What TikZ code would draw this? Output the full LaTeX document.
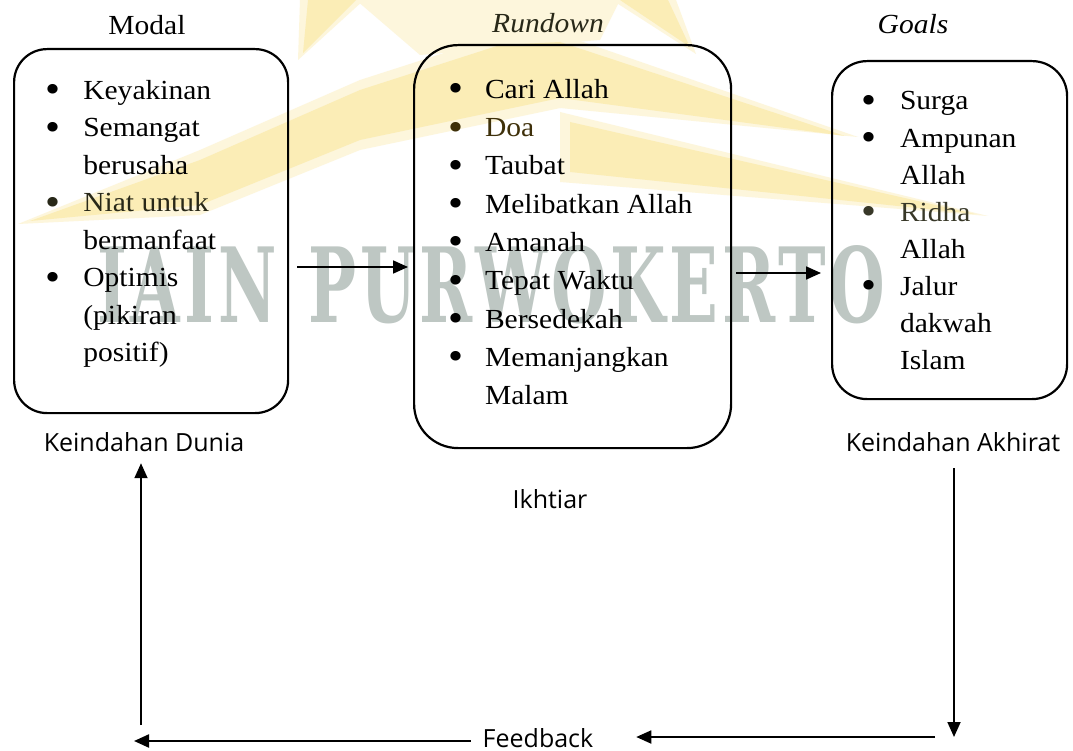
\documentclass[tikz,border=0pt]{standalone}
\usepackage{fontspec}
\usepackage{graphicx}
\setmainfont{Liberation Serif}[FakeStretch=1.07]
\newfontfamily\labelfont{Open Sans}
\newfontfamily\wmfont{DejaVu Serif}[LetterSpace=6]
\usetikzlibrary{arrows.meta,calc}
\definecolor{logoy}{RGB}{251,237,182}
\definecolor{logoyl}{RGB}{253,246,220}
\definecolor{wmgray}{RGB}{190,199,195}
\definecolor{tintDoa}{RGB}{62,48,10}
\definecolor{tintNiat}{RGB}{40,40,24}
\definecolor{tintRidha}{RGB}{56,56,40}
\newcommand{\bul}{\raisebox{-3.5pt}{\scalebox{1.45}{•}}}
\newcommand{\bc}[1]{\makebox[#1][l]{\bul}}
\tikzset{
  box/.style={draw, line width=2.2pt, inner sep=0pt, anchor=north west},
  heading/.style={font=\fontsize{27.6}{33}\selectfont, inner sep=0pt, outer sep=0pt, anchor=base},
  lbl/.style={font=\labelfont\fontsize{25}{30}\selectfont, inner sep=0pt, outer sep=0pt, anchor=base},
  listnode/.style={inner sep=0pt, outer sep=0pt, anchor=base west},
  arr/.style={line width=1.8pt, -{Triangle[length=15pt,width=13pt]}},
  logo/.style={fill=logoy, draw=none},
  logolight/.style={fill=logoyl, draw=none},
}
\begin{document}
\begin{tikzpicture}[x=1pt,y=-1pt]
\useasboundingbox (0,0) rectangle (1073,751);
\fill[white] (0,0) rectangle (1073,751);

% faint logo watermark: soft halo first, then core
\fill[logolight] (356,0) -- (620,0) -- (600,40) -- (420,55) -- cycle;
\fill[logolight] (298,60) -- (300,0) -- (364,0) -- cycle;
\fill[logolight] (696,54) -- (612,0) -- (676,0) -- cycle;
\fill[logolight] (18,224) -- (200,150) -- (360,80) -- (500,35) -- (570,34) -- (570,106) -- (360,150) -- (200,215) -- cycle;
\fill[logolight] (560,34) -- (858,137) -- (560,108) -- cycle;
\fill[logolight] (560,112) -- (988,216) -- (560,182) -- cycle;
\fill[logo] (303,53) -- (308,0) -- (356,0) -- cycle;
\fill[logo] (690,47) -- (620,0) -- (668,0) -- cycle;
\fill[logo] (30,221) -- (200,160) -- (360,90) -- (500,45) -- (560,42) -- (560,98) -- (360,140) -- (200,205) -- cycle;
\fill[logo] (560,42) -- (845,136) -- (560,98) -- cycle;
\fill[logo] (570,122) -- (975,214) -- (570,172) -- cycle;
\node[text=wmgray, inner sep=0pt, anchor=north west] (wm) at (97,245)
  {\resizebox{788pt}{77pt}{\wmfont\bfseries IAIN\hspace{0.5em}PURWOKERTO}};

% headings
\node[heading] (hModal) at (147,35) {Modal};
\node[heading, text=tintNiat] (hRundown) at (548,33) {\itshape Rundown};
\node[heading] (hGoals) at (913,34) {\itshape Goals};

% boxes
\node[box, rounded corners=33pt, minimum width=274pt, minimum height=364pt] (box1) at (13,48) {};
\node[box, rounded corners=44pt, minimum width=317pt, minimum height=403pt] (box2) at (413,44) {};
\node[box, rounded corners=35pt, minimum width=235pt, minimum height=338pt] (box3) at (831,60) {};

% lists
\node[listnode] (list1) at (45.5,99.3) {\fontsize{27.6}{37.5}\selectfont
  \begin{tabular}[t]{@{}l@{}l@{}}
  \bc{37.8pt} & Keyakinan\\
  \bc{37.8pt} & Semangat\\
       & berusaha\\
  \color{tintNiat}\bc{37.8pt} & \color{tintNiat}Niat untuk\\
       & bermanfaat\\
  \bc{37.8pt} & Optimis\\
       & (pikiran\\
       & positif)
  \end{tabular}};
\node[listnode] (list2) at (448.5,98.3) {\fontsize{27.6}{38.3}\selectfont
  \begin{tabular}[t]{@{}l@{}l@{}}
  \bc{36.5pt} & Cari Allah\\
  \color{tintDoa}\bc{36.5pt} & \color{tintDoa}Doa\\
  \bc{36.5pt} & Taubat\\
  \bc{36.5pt} & Melibatkan Allah\\
  \bc{36.5pt} & Amanah\\
  \bc{36.5pt} & Tepat Waktu\\
  \bc{36.5pt} & Bersedekah\\
  \bc{36.5pt} & Memanjangkan\\
       & Malam
  \end{tabular}};
\node[listnode] (list3) at (861.5,110) {\fontsize{27.6}{37.1}\selectfont
  \begin{tabular}[t]{@{}l@{}l@{}}
  \bc{38.5pt} & Surga\\
  \bc{38.5pt} & Ampunan\\
       & Allah\\
  \color{tintRidha}\bc{38.5pt} & \color{tintRidha}Ridha\\
       & Allah\\
  \bc{38.5pt} & Jalur\\
       & dakwah\\
       & Islam
  \end{tabular}};

% labels
\node[lbl] (kD) at (144,451) {Keindahan Dunia};
\node[lbl] (kA) at (953,451) {Keindahan Akhirat};
\node[lbl] (ik) at (550,508) {Ikhtiar};
\node[lbl] (fb) at (538,747) {Feedback};

% connector helpers
\coordinate (p1) at (0,267);
\coordinate (p2) at (0,273);
\coordinate (br) at (954,737);
\coordinate (bl) at (141,741);

% connectors
\draw[arr] ($(box1.east |- p1)+(8,0)$) -- ($(box2.west |- p1)+(-5,0)$);
\draw[arr] ($(box2.east |- p2)+(4,0)$) -- ($(box3.west |- p2)+(-10,0)$);
\draw[arr] ($(br |- kA.south)+(0,17)$) -- (br);
\draw[arr] ($(br)+(-19,0)$) -- ($(fb.east |- br)+(43,0)$);
\draw[arr, line width=2.2pt] ($(fb.west |- bl)+(-12,0)$) -- ($(bl)+(-7,0)$);
\draw[arr] ($(bl)+(0,-16)$) -- ($(bl |- kD.south)+(0,12)$);
\end{tikzpicture}
\end{document}
